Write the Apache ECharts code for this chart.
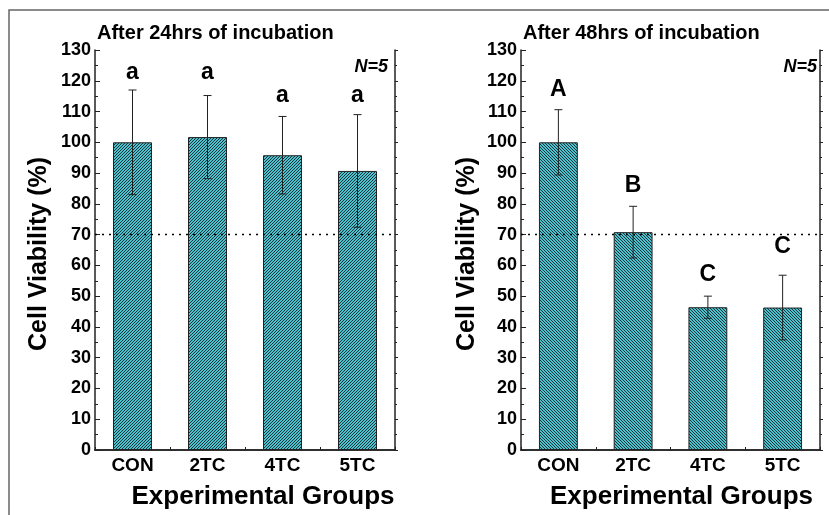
<!DOCTYPE html>
<html>
<head>
<meta charset="utf-8">
<script src="https://cdn.jsdelivr.net/npm/echarts@6/dist/echarts.min.js"></script>
<style>
  html, body { margin: 0; padding: 0; background: #fff; }
  #chart { width: 829px; height: 515px; }
</style>
</head>
<body>
<div id="chart"></div>
<script>
var groups = ['CON', '2TC', '4TC', '5TC'];
var yTicks = [0, 130, 10];          // min, max, interval

// 24 h panel
var mean24 = [100, 101.7, 95.8, 90.7];
var sd24 = [17, 13.5, 12.6, 18.3];
var letters24 = ['a', 'a', 'a', 'a'];
var letterPos24 = [122.5, 122.5, 115, 115];

// 48 h panel
var mean48 = [100, 70.8, 46.4, 46.3];
var sd48 = [10.6, 8.4, 3.6, 10.5];
var letters48 = ['A', 'B', 'C', 'C'];
var letterPos48 = [117, 86, 57, 66];

var cutoff = 70;

var FONT = '"Liberation Sans", Arial, sans-serif';

// small hatch tile, dir 1 = "/" , -1 = "\"
function hatch(dir) {
  var c = document.createElement('canvas');
  c.width = 3; c.height = 3;
  var ctx = c.getContext('2d');
  ctx.fillStyle = '#4cc2ce';
  ctx.fillRect(0, 0, 3, 3);
  ctx.fillStyle = '#173238';
  for (var x = 0; x < 3; x++) {
    for (var y = 0; y < 3; y++) {
      var k = dir > 0 ? x + y : x - y + 3;
      if (k % 3 == 0) ctx.fillRect(x, y, 1, 1);
    }
  }
  return c;
}

function errRender(params, api) {
  var i = api.value(0);
  var m = api.value(1), e = api.value(2);
  var top = api.coord([i, m + e]);
  var bot = api.coord([i, m - e]);
  var hw = 4;
  var st = { stroke: '#222', lineWidth: 1 };
  return {
    type: 'group',
    children: [
      { type: 'line', shape: { x1: top[0], y1: top[1], x2: bot[0], y2: bot[1] }, style: st },
      { type: 'line', shape: { x1: top[0] - hw, y1: top[1], x2: top[0] + hw, y2: top[1] }, style: st },
      { type: 'line', shape: { x1: bot[0] - hw, y1: bot[1], x2: bot[0] + hw, y2: bot[1] }, style: st }
    ]
  };
}

function letterRender(params, api) {
  var p = api.coord([api.value(0), api.value(1)]);
  return {
    type: 'text',
    x: p[0], y: p[1],
    style: {
      text: api.value(2),
      fill: '#000',
      font: 'bold 23px ' + FONT,
      align: 'center',
      verticalAlign: 'middle'
    }
  };
}

var axisCol = '#222';

function bottomAxis(g, shift) {
  return {
    type: 'category', gridIndex: g, data: groups,
    axisLine: { lineStyle: { color: axisCol, width: 1.5 } },
    axisTick: { inside: true, length: 5, lineStyle: { color: axisCol } },
    axisLabel: { color: '#000', fontSize: 19, fontWeight: 'bold', fontFamily: FONT, margin: 6 },
    name: 'Experimental Groups', nameLocation: 'middle', nameGap: 34,
    nameTextStyle: { color: '#000', fontSize: 26, fontWeight: 'bold', fontFamily: FONT, padding: [0, 0, 0, shift] }
  };
}
function topAxis(g) {
  return {
    type: 'value', gridIndex: g, position: 'top', min: 0, max: 8, interval: 1,
    axisLine: { show: true, lineStyle: { color: axisCol, width: 1.5 } },
    axisTick: { show: true, length: 3, lineStyle: { color: axisCol } },
    axisLabel: { show: false }, splitLine: { show: false }
  };
}
function leftAxis(g, gap) {
  return {
    type: 'value', gridIndex: g, min: yTicks[0], max: yTicks[1], interval: yTicks[2],
    axisLine: { show: true, lineStyle: { color: axisCol, width: 1.5 } },
    axisTick: { show: true, inside: true, length: 5, lineStyle: { color: axisCol } },
    minorTick: { show: true, splitNumber: 2, length: 3, lineStyle: { color: axisCol } },
    axisLabel: { color: '#000', fontSize: 18, fontWeight: 'bold', fontFamily: FONT, margin: 4 },
    splitLine: { show: false },
    name: 'Cell Viability (%)', nameLocation: 'middle', nameGap: gap,
    nameTextStyle: { color: '#000', fontSize: 25, fontWeight: 'bold', fontFamily: FONT, padding: [0, 8, 0, 0] }
  };
}
function rightAxis(g) {
  return {
    type: 'value', gridIndex: g, position: 'right', min: yTicks[0], max: yTicks[1], interval: yTicks[2],
    axisLine: { show: true, lineStyle: { color: axisCol, width: 1.5 } },
    axisTick: { show: true, length: 3, lineStyle: { color: axisCol } },
    minorTick: { show: true, splitNumber: 2, length: 2, lineStyle: { color: axisCol } },
    axisLabel: { show: false }, splitLine: { show: false }
  };
}

function panelSeries(g, means, sds, letters, lpos, dir) {
  var xi = g * 2, yi = g * 2;
  return [
    {
      type: 'bar', xAxisIndex: xi, yAxisIndex: yi, data: means, barWidth: '52%',
      itemStyle: { color: { image: hatch(dir), repeat: 'repeat' }, borderColor: '#222', borderWidth: 1 },
      markLine: {
        silent: true, symbol: 'none', label: { show: false },
        lineStyle: { type: [2, 5], color: '#000', width: 1.3 },
        data: [{ yAxis: cutoff }]
      }
    },
    {
      type: 'custom', xAxisIndex: xi, yAxisIndex: yi, z: 5,
      renderItem: errRender,
      data: means.map(function (m, i) { return [i, m, sds[i]]; })
    },
    {
      type: 'custom', xAxisIndex: xi, yAxisIndex: yi, z: 5,
      renderItem: letterRender,
      data: lpos.map(function (v, i) { return [i, v, letters[i]]; })
    }
  ];
}

var chart = echarts.init(document.getElementById('chart'));
chart.setOption({
  animation: false,
  backgroundColor: '#fff',
  grid: [
    { left: 95, top: 50, width: 300, height: 400 },
    { left: 521, top: 50, width: 299, height: 400 }
  ],
  xAxis: [bottomAxis(0, 36), topAxis(0), bottomAxis(1, 22), topAxis(1)],
  yAxis: [leftAxis(0, 43), rightAxis(0), leftAxis(1, 41), rightAxis(1)],
  series: [].concat(
    panelSeries(0, mean24, sd24, letters24, letterPos24, 1),
    panelSeries(1, mean48, sd48, letters48, letterPos48, -1)
  ),
  graphic: [
    { type: 'rect', shape: { x: 9, y: 10, width: 1000, height: 800 }, style: { fill: 'none', stroke: '#666', lineWidth: 1.5 }, silent: true },
    { type: 'text', x: 97, y: 33, style: { text: 'After 24hrs of incubation', font: 'bold 20px ' + FONT, fill: '#000', verticalAlign: 'middle' } },
    { type: 'text', x: 523, y: 33, style: { text: 'After 48hrs of incubation', font: 'bold 20px ' + FONT, fill: '#000', verticalAlign: 'middle' } },
    { type: 'text', x: 388, y: 67, style: { text: 'N=5', font: 'italic bold 18px ' + FONT, fill: '#000', align: 'right', verticalAlign: 'middle' } },
    { type: 'text', x: 817, y: 67, style: { text: 'N=5', font: 'italic bold 18px ' + FONT, fill: '#000', align: 'right', verticalAlign: 'middle' } }
  ]
});
</script>
</body>
</html>
